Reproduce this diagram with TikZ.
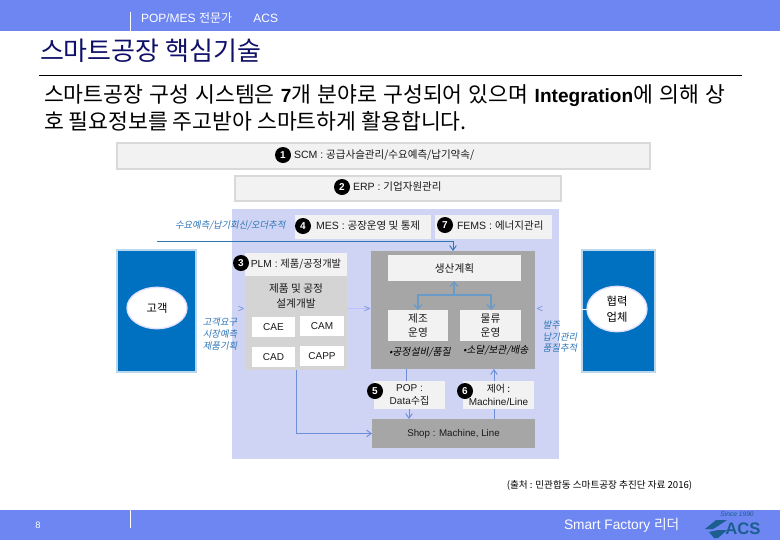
\documentclass[tikz,border=0pt]{standalone}
\usepackage{fontspec}
\setmainfont{Noto Sans CJK KR}
\newfontfamily\latf{Liberation Sans}
\newfontfamily\slantf{Noto Sans CJK KR}[FakeSlant=0.2]
\usetikzlibrary{arrows.meta,shapes.geometric}
\definecolor{bar}{HTML}{6E86F2}
\definecolor{navy}{HTML}{10106A}
\definecolor{lav}{HTML}{D0D4F4}
\definecolor{dgray}{HTML}{A6A6A6}
\definecolor{lgray}{HTML}{D4D4D4}
\definecolor{pale}{HTML}{F2F2F2}
\definecolor{brd}{HTML}{D9D9D9}
\definecolor{linkb}{HTML}{6C8FD8}
\definecolor{inner}{HTML}{6A9AC8}
\definecolor{labb}{HTML}{2E75B6}
\definecolor{sblue}{HTML}{0070C0}
\definecolor{pedge}{HTML}{BBD7EE}
\definecolor{logo}{HTML}{1B5E8F}
\tikzset{
  x=0.75pt,y=-0.75pt,
  every node/.style={inner sep=0pt,outer sep=0pt},
  bigbox/.style={fill=pale,draw=brd,line width=1.5pt},
  boxtext/.style={anchor=west,font=\fontsize{7.9}{9}\selectfont,text=black!90},
  whitebox/.style={fill=white,font=\fontsize{7.5}{9}\selectfont,text=black!90,align=center},
  palebox/.style={fill=pale,font=\fontsize{8}{11}\selectfont,text=black!90,align=center},
  num/.style={circle,fill=black,text=white,minimum size=12pt,font=\latf\bfseries\fontsize{7.5}{8}\selectfont},
  lab/.style={text=labb,font=\slantf\fontsize{7}{8.7}\selectfont,align=left},
  flow/.style={draw=linkb,line width=0.7pt},
  flowa/.style={flow,-{Straight Barb[length=3.5pt,width=5pt]}},
  innera/.style={draw=inner,line width=0.9pt,-{Straight Barb[length=3.5pt,width=6pt]}},
  chev/.style={text=linkb,font=\latf\fontsize{8}{9}\selectfont},
  party/.style={fill=sblue,draw=pedge,line width=1pt},
  oval/.style={ellipse,fill=white,draw=blue!12!white,line width=1pt,font=\fontsize{8.5}{12}\selectfont,align=center},
  bullet/.style={anchor=west,text=black,font=\slantf\fontsize{7.4}{8}\selectfont}
}
\newcommand{\pbox}[6]{\node[#1,minimum width=#4*0.75pt-#2*0.75pt,minimum height=#5*0.75pt-#3*0.75pt,anchor=north west] (#6) at (#2,#3)}
\begin{document}
\begin{tikzpicture}
\useasboundingbox (0,0) rectangle (780,540);
\fill[white] (0,0) rectangle (780,540);
\fill[bar] (0,0) rectangle (780,31);
\fill[bar] (0,510) rectangle (780,540);
\draw[white,line width=0.6pt] (130.5,12) -- (130.5,31);
\draw[white,line width=0.6pt] (130.5,510) -- (130.5,528);
\node[anchor=west,text=white,font=\latf\fontsize{9}{10}\selectfont] (hdr) at (141,18) {POP/MES {\rmfamily 전문가}\hspace{16pt}ACS};
\node[anchor=west,text=navy,font=\fontsize{19.5}{22}\selectfont] (title) at (40,51) {스마트공장 핵심기술};
\draw[black,line width=0.7pt] (39,75) -- (742,75);
\node[anchor=west,font=\fontsize{16.2}{18}\selectfont] (b1) at (44,96) {\spaceskip=4.6pt 스마트공장 구성 시스템은 {\latf\bfseries\fontsize{14.3}{18}\selectfont 7}개 분야로 구성되어 있으며 {\latf\bfseries\fontsize{14.3}{18}\selectfont Integration}에 의해 상};
\node[anchor=west,font=\fontsize{16.2}{18}\selectfont] (b2) at (44,121) {호 필요정보를 주고받아 스마트하게 활용합니다.};

\pbox{bigbox}{116.5}{142.5}{650}{169}{scm} {};
\pbox{bigbox}{234.5}{175.5}{560.5}{201}{erp} {};
\fill[lav] (232,209) rectangle (559,459);
\pbox{fill=pale}{295}{215}{431}{239}{mes} {};
\pbox{fill=pale}{435}{215}{552}{239}{fems} {};

\node[boxtext] (scmt) at (294,155) {{\latf SCM : }공급사슬관리/수요예측/납기약속/};
\node[boxtext] (erpt) at (353,187) {{\latf ERP : }기업자원관리};
\node[boxtext] (mest) at (316,226) {{\latf MES : }공장운영 및 통제};
\node[boxtext] (femst) at (457,226) {{\latf FEMS : }에너지관리};
\node[lab,anchor=west] (ordl) at (175,225) {수요예측/납기회신/오더추적};

\pbox{party}{117}{250}{196}{372}{cust} {};
\pbox{party}{582}{250}{655}{372}{part} {};
\node[oval,minimum width=45pt,minimum height=31pt] (custo) at (157,308) {고객};
\node[oval,minimum width=45pt,minimum height=34pt] (parto) at (617,309) {협력\\업체};

\pbox{fill=lgray}{245}{276}{347}{370}{plmp} {};
\pbox{palebox,font=\fontsize{7.7}{9}\selectfont}{245}{253}{347}{276}{plm} {{\latf PLM : }제품/공정개발};
\node[font=\fontsize{8}{11.5}\selectfont,align=center,text=black!90] (plmt) at (296,296) {제품 및 공정\\설계개발};
\pbox{whitebox}{252}{317}{295}{337}{cae} {\latf CAE};
\pbox{whitebox}{300}{316}{344}{336}{cam} {\latf CAM};
\pbox{whitebox}{252}{347}{295}{367}{cad} {\latf CAD};
\pbox{whitebox}{300}{346}{344}{366}{capp} {\latf CAPP};

\pbox{fill=dgray}{371}{251}{535}{369}{main} {};
\pbox{palebox}{388}{255}{521}{281}{plan} {생산계획};
\pbox{palebox}{388}{310}{448}{341}{mfg} {제조\\운영};
\pbox{palebox}{460}{310}{521}{341}{log} {물류\\운영};
\node[bullet] (qual) at (389,352) {•공정설비/품질};
\node[bullet] (deliv) at (463,350) {•소달/보관/배송};

\pbox{palebox,font=\fontsize{7.5}{10}\selectfont}{374}{381}{445}{409}{pop} {{\latf POP :}\\{\latf Data}수집};
\pbox{palebox,font=\fontsize{7.5}{10}\selectfont}{463}{381}{534}{409}{ctrl} {제어 :\\{\latf Machine/Line}};
\pbox{fill=dgray,font=\latf\fontsize{7.3}{8}\selectfont,text=black!90}{372}{419}{535}{448}{shop} {Shop : Machine, Line};

\node[num] (n1) at (283,155) {1};
\node[num] (n2) at (342,187) {2};
\node[num] (n3) at (241,263) {3};
\node[num] (n4) at (303,226) {4};
\node[num] (n7) at (445,225) {7};
\node[num] (n5) at (375,391) {5};
\node[num] (n6) at (465,391) {6};

\coordinate (o1) at (157,241);
\coordinate (o2) at (453,241);
\draw[flowa,draw=labb] (o1) -- (o2) -- (main.north -| o2);
\draw[flowa] (plmp.south) |- (shop.west);
\coordinate (f1) at (406,381);
\draw[flow] (main.south -| f1) -- (pop.north -| f1);
\coordinate (f2) at (409,381);
\draw[flowa] (pop.south -| f2) -- (shop.north -| f2);
\coordinate (f3) at (494,381);
\draw[flow] (shop.north -| f3) -- (ctrl.south -| f3);
\draw[flowa] (ctrl.north -| f3) -- (main.south -| f3);
\coordinate (c1) at (454,295);
\coordinate (c2) at (418,295);
\coordinate (c3) at (491,295);
\draw[innera] (c1) -- (plan.south -| c1);
\draw[innera] (c1) -- (c2) -- (mfg.north -| c2);
\draw[innera] (c1) -- (c3) -- (log.north -| c3);
\draw[blue!25!white,line width=0.5pt] (plmp.east |- custo) -- (main.west |- custo);
\draw[white,line width=0.5pt] (559,309) -- (parto.west);
\node[chev] (ch1) at (241,309) {>};
\node[chev] (ch2) at (367,309) {>};
\node[chev] (ch3) at (540,309) {<};

\node[lab,align=center] (cl) at (220,334) {고객요구\\시장예측\\제품기획};
\node[lab] (pl) at (560,336.5) {발주\\납기관리\\품질추적};

\node[anchor=center,font=\fontsize{7.2}{8}\selectfont] (src) at (599.5,485) {(출처 : 민관합동 스마트공장 추진단 자료 2016)};
\node[text=white,font=\latf\fontsize{7}{8}\selectfont] (pg) at (38,525) {8};
\node[anchor=west,text=white,font=\latf\fontsize{10.3}{12}\selectfont] (sf) at (564,525) {Smart Factory {\rmfamily 리더}};
\node[text=logo,font=\latf\bfseries\fontsize{12.5}{13}\selectfont] (acs) at (743,529) {ACS};
\node[text=logo,font=\latf\itshape\fontsize{5}{6}\selectfont] (since) at (737,514) {Since 1990};
\fill[logo] (705,529) -- (716,520) -- (727,520) -- (718,526) -- (713,529) -- cycle;
\fill[logo] (709,532) -- (718,530) -- (727,530) -- (718,538) -- (714,538) -- cycle;
\end{tikzpicture}
\end{document}
